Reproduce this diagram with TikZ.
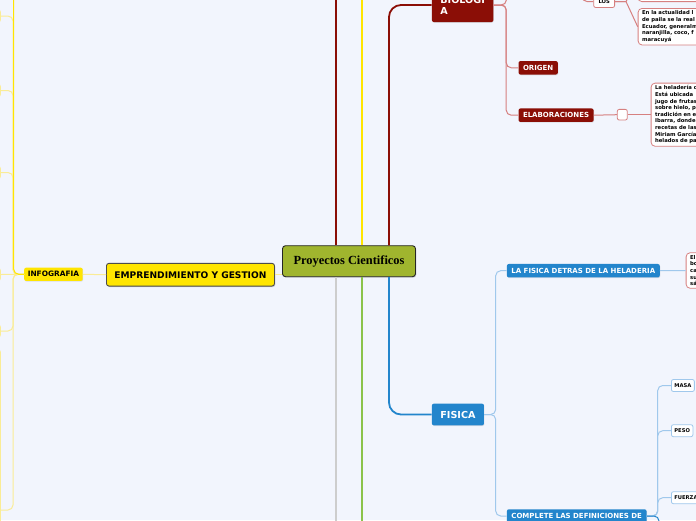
\documentclass[tikz,border=0pt]{standalone}
\usepackage{fontspec}
\setmainfont{DejaVu Sans}
\newfontfamily\titlefont{Liberation Serif}
\usetikzlibrary{shadows}
\definecolor{mapbg}{RGB}{242,245,253}
\definecolor{mapred}{RGB}{139,14,6}
\definecolor{mapredlight}{RGB}{214,128,128}
\definecolor{mapyellow}{RGB}{255,229,0}
\definecolor{mapyellowlight}{RGB}{250,236,150}
\definecolor{mapblue}{RGB}{35,133,204}
\definecolor{mapbluelight}{RGB}{160,200,236}
\definecolor{mapgreen}{RGB}{139,195,74}
\definecolor{mapgray}{RGB}{205,205,205}
\definecolor{mapolive}{RGB}{160,181,46}

\begin{document}
\begin{tikzpicture}[x=1pt, y=-1pt,
  mainbox/.style={rectangle, rounded corners=3pt, draw=black!85, line width=0.9pt,
                  fill=#1, text=black,
                  drop shadow={shadow xshift=0.8pt, shadow yshift=-1pt, opacity=0.35}},
  topic/.style={rectangle, rounded corners=2pt, fill=#1, text=white,
                font=\fontsize{7}{8}\selectfont\bfseries, inner xsep=4.5pt, inner ysep=0pt,
                minimum height=13.5pt, anchor=west,
                drop shadow={shadow xshift=0.5pt, shadow yshift=-0.7pt, opacity=0.2}},
  bigtopic/.style={topic=#1, font=\fontsize{9.6}{11}\selectfont\bfseries,
                   inner xsep=8.5pt, minimum height=21.7pt},
  leaf/.style={rectangle, rounded corners=2pt, draw=#1, fill=white, line width=0.8pt,
               text=black, font=\fontsize{5.2}{6}\selectfont\bfseries,
               inner xsep=3pt, inner ysep=0pt, minimum height=12pt, anchor=west},
  note/.style={rectangle, rounded corners=4pt, draw=#1, fill=white, line width=0.8pt,
               text width=75pt, align=left, font=\fontsize{5.3}{6.6}\selectfont\bfseries,
               inner xsep=4pt, inner ysep=2.5pt, anchor=west},
  branch/.style={draw=#1, line width=1.8pt, rounded corners=12pt},
  twig/.style={draw=#1, line width=1pt, rounded corners=5pt}
]
\useasboundingbox (0,0) rectangle (696,520);
\clip (0,0) rectangle (696,520);
\fill[mapbg] (0,0) rectangle (696,520);

%% Root
\node[mainbox=mapolive, font=\titlefont\fontsize{12.4}{14}\selectfont\bfseries,
      inner xsep=11pt, minimum height=31pt] (root) at (349,261.2) {Proyectos Cientificos};

%% Main branches
\coordinate (redtop) at (336,-10);
\coordinate (yeltop) at (362,-10);
\coordinate (graybot) at (336,530);
\coordinate (greenbot) at (362,530);
\draw[branch=mapred] ([xshift=-13pt]root.north) -- (redtop);
\draw[branch=mapyellow] ([xshift=13pt]root.north) -- (yeltop);
\draw[branch=mapgray] ([xshift=-13pt]root.south) -- (graybot);
\draw[branch=mapgreen] ([xshift=13pt]root.south) -- (greenbot);

%% Emprendimiento
\node[mainbox=mapyellow, font=\fontsize{9.1}{10}\selectfont\bfseries, inner xsep=8pt,
      minimum height=22.7pt, rounded corners=2.5pt, draw=black!70, anchor=west]
      (emp) at (106,274.7) {EMPRENDIMIENTO Y GESTION};
\draw[twig=mapyellowlight] (emp.east) -- (emp.east -| root.west);
\node[topic=mapyellow, text=black, font=\fontsize{7.4}{8}\selectfont\bfseries,
      inner xsep=3.6pt, minimum height=13.3pt] (info) at (24,274.3) {INFOGRAFIA};
\draw[twig=mapyellowlight] (info.east) -- (emp.west);

\node[leaf=mapyellowlight, anchor=east, minimum width=30pt] (side1) at (0.8,16) {};
\node[leaf=mapyellowlight, anchor=east, minimum width=30pt] (side2) at (0.8,90.5) {};
\node[leaf=mapyellowlight, anchor=east, minimum width=30pt] (side3) at (0.8,172.5) {};
\node[leaf=mapyellowlight, anchor=east, minimum width=30pt] (side4) at (0.8,274.5) {};
\node[leaf=mapyellowlight, anchor=east, minimum width=30pt] (side5) at (0.8,331) {};
\node[leaf=mapyellowlight, anchor=east, minimum width=30pt, minimum height=320pt] (side6) at (0.8,510) {};
\draw[twig=mapyellowlight] (info.west) -- (13,274.3) |- (side1.east);
\draw[twig=mapyellowlight] (info.west) -- (13,274.3) |- (side2.east);
\draw[twig=mapyellowlight] (info.west) -- (13,274.3) |- (side3.east);
\draw[twig=mapyellowlight] (info.west) -- (side4.east);
\draw[twig=mapyellowlight] (info.west) -- (13,274.3) |- (side5.east);
\draw[twig=mapyellowlight] (info.west) -- (13,274.3) |- (side6.east);
\coordinate (infoup) at (13.7,-10);
\draw[twig=mapyellow] (info.west) -| (infoup);

%% Biologia
\node[bigtopic=mapred, align=left, inner ysep=8pt] (bio) at (431.7,5) {BIOLOGI\\A};
\draw[branch=mapred] ([xshift=40pt]root.north) |- (bio.west);

\node[topic=mapred] (origen) at (518.3,67.8) {ORIGEN};
\node[topic=mapred] (elab) at (518.3,115.2) {ELABORACIONES};
\coordinate (bioup) at (506.7,-10);
\draw[twig=mapredlight] (bio.east) -- ++(12.7,0) -- (bioup);
\draw[twig=mapredlight] (bio.east) -- ++(12.7,0) |- (origen.west);
\draw[twig=mapredlight] (bio.east) -- ++(12.7,0) |- (elab.west);

\node[leaf=mapredlight, minimum width=10pt, minimum height=10.7pt, inner sep=0pt,
      anchor=center] (knot) at (622.3,114.7) {};
\draw[twig=mapredlight] (elab.east) -- (knot.west);
\node[note=mapredlight] (recetas) at (650.7,114.7)
  {La heladería d\\Está ubicada\\jugo de frutas\\sobre hielo, p\\tradición en e\\Ibarra, donde\\recetas de las\\Miriam García\\helados de pa};
\draw[twig=mapredlight] (knot.east) -- (recetas.west);

\node[leaf=mapredlight, inner xsep=4.8pt] (los) at (593.3,1.5) {LOS};
\coordinate (losin) at (582,-20);
\draw[twig=mapredlight] (losin) |- (los.west);
\node[note=mapredlight, minimum height=40pt, anchor=south west] (losup) at (637.5,2) {};
\node[note=mapredlight] (actual) at (637.7,26.7)
  {En la actualidad l\\de paila se la real\\Ecuador, generalm\\naranjilla, coco, f\\maracuyá};
\draw[twig=mapredlight, rounded corners=0pt] (los.east) -- ++(11,0) -- (actual.west);
\draw[twig=mapredlight, rounded corners=0pt] (los.east) -- ++(11,0) -- (losup.west);

%% Fisica
\node[bigtopic=mapblue] (fis) at (431.7,414.5) {FISICA};
\draw[branch=mapblue] ([xshift=40pt]root.south) |- (fis.west);

\node[topic=mapblue] (lafis) at (506.7,270.7) {LA FISICA DETRAS DE LA HELADERIA};
\node[topic=mapblue] (comp) at (506.7,516) {COMPLETE LAS DEFINICIONES DE};
\draw[twig=mapbluelight] (fis.east) -- ++(11.5,0) |- (lafis.west);
\draw[twig=mapbluelight] (fis.east) -- ++(11.5,0) |- (comp.west);

\node[note=mapredlight] (elnote) at (685.7,270.5) {El\\bo\\ca\\su\\sá};
\draw[twig=mapbluelight] (lafis.east) -- (elnote.west);

\node[leaf=mapbluelight] (masa) at (671,385.5) {MASA};
\node[leaf=mapbluelight] (peso) at (671,430.7) {PESO};
\node[leaf=mapbluelight] (fuerza) at (671,497.7) {FUERZA};
\draw[twig=mapbluelight] (comp.east) -- ++(11,0) |- (masa.west);
\draw[twig=mapbluelight] (comp.east) -- ++(11,0) |- (peso.west);
\draw[twig=mapbluelight] (comp.east) -- ++(11,0) |- (fuerza.west);
\coordinate (compdown) at (659,540);
\draw[twig=mapblue] (comp.east) -| (compdown);
\end{tikzpicture}
\end{document}
